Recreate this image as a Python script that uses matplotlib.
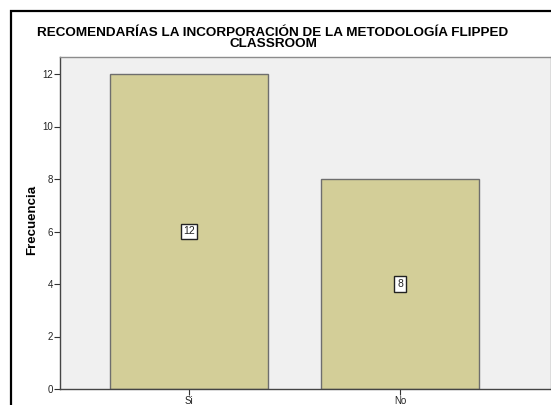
import matplotlib
matplotlib.use("Agg")
import matplotlib.pyplot as plt
from matplotlib.patches import Rectangle

categories = ["Si", "No"]
frequencies = [12, 8]
yticks = [0, 2, 4, 6, 8, 10, 12]
title = "RECOMENDARÍAS LA INCORPORACIÓN DE LA METODOLOGÍA FLIPPED\nCLASSROOM"

W, H = 551, 405
fig = plt.figure(figsize=(W / 100, H / 100), dpi=100)
fig.patch.set_facecolor("white")

# outer frame
fig.add_artist(Rectangle((11 / W, -0.1), 1.2, 1 - 11 / H + 0.1, transform=fig.transFigure,
                         fill=False, edgecolor="black", linewidth=1.6))

left_px, right_px, top_px, bot_px = 60, 551, 57, 389
ax = fig.add_axes([left_px / W, 1 - bot_px / H, (right_px - left_px) / W, (bot_px - top_px) / H])
ax.set_facecolor("#F0F0F0")

x = list(range(len(categories)))
bars = ax.bar(x, frequencies, width=0.749, color="#D3CE98", edgecolor="#6E6E6E", linewidth=1.0, zorder=2)

# x range: category 0 at px 189, category 1 at px 400
unit = 400 - 189
ax.set_xlim((left_px - 189) / unit, (right_px - 189) / unit)
ytop = (bot_px - top_px) / ((389 - 74) / 12)
ax.set_ylim(0, ytop)

ax.set_yticks(yticks)
ax.set_yticklabels([str(v) for v in yticks])
ax.set_xticks(x)
ax.set_xticklabels(categories)
ax.tick_params(axis="y", length=4, width=0.8, colors="#333333", labelsize=7, pad=1)
ax.tick_params(axis="x", length=4, width=0.8, colors="#333333", labelsize=7, pad=1)
for lab in ax.get_yticklabels() + ax.get_xticklabels():
    lab.set_fontfamily("Liberation Sans")
    lab.set_color("#222222")

for s in ["left", "bottom"]:
    ax.spines[s].set_color("#444444")
    ax.spines[s].set_linewidth(1.0)
for s in ["top", "right"]:
    ax.spines[s].set_color("#8C8C8C")
    ax.spines[s].set_linewidth(1.0)

for xi, v in zip(x, frequencies):
    ax.text(xi, v / 2, str(v), ha="center", va="center", fontsize=7.5, family="Liberation Sans",
            color="#222222", zorder=3,
            bbox=dict(boxstyle="square,pad=0.25", facecolor="white", edgecolor="#222222", linewidth=1.0))

ax.set_ylabel("Frecuencia", fontsize=9.5, fontweight="bold", family="Liberation Sans")
ax.yaxis.set_label_coords((38 - left_px) / (right_px - left_px), 0.5 - (220 - (top_px + bot_px) / 2) / (bot_px - top_px))

fig.text(273 / W, 1 - 38.5 / H, title, ha="center", va="center", fontsize=9.7, fontweight="bold",
         family="Liberation Sans", linespacing=0.9)

fig.savefig("out.png", dpi=100)
